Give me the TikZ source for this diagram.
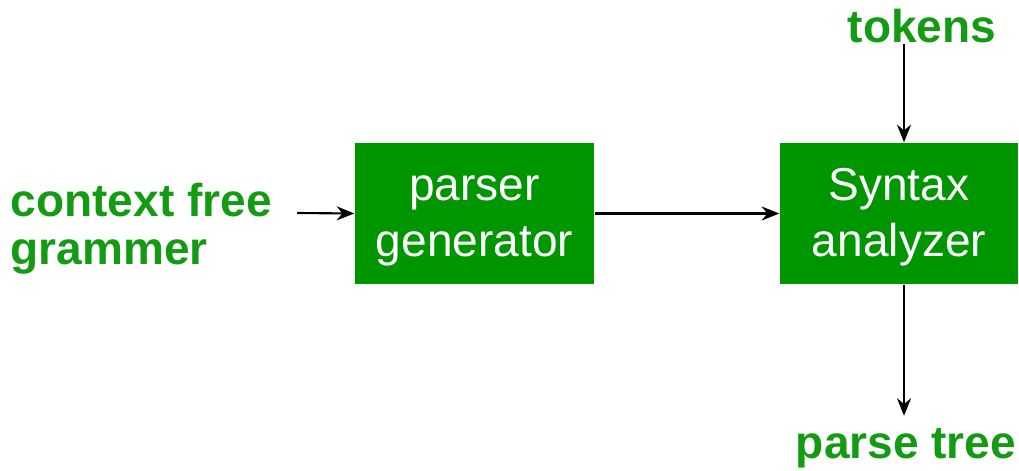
\documentclass[tikz,border=0pt]{standalone}
\usepackage{fontspec}
\setmainfont{Liberation Sans}
\usetikzlibrary{arrows.meta}
\definecolor{gfgreen}{RGB}{0,150,0}
\definecolor{lblgreen}{RGB}{20,155,20}
\tikzset{
  box/.style={fill=gfgreen,minimum width=2.39cm,minimum height=1.41cm,inner sep=0pt},
  boxtext/.style={text=white,inner sep=0pt,align=center,anchor=base,
    font=\fontsize{13.1}{15.7}\selectfont},
  lbl/.style={text=lblgreen,inner sep=0pt,font=\fontsize{13.1}{13.4}\selectfont\bfseries},
  arr/.style={-{Stealth[length=5pt,width=4pt]},line width=0.6pt}
}
\begin{document}
\begin{tikzpicture}[x=0.01cm,y=-0.01cm]
                \useasboundingbox (0,0) rectangle (1019,470);
                \node[box] (pg) at (474.5,213.5) {};
                \node[boxtext] (pgt) at (474.5,256) {parser\\generator};
                \node[box,minimum width=2.38cm] (sa) at (899,213.5) {};
                \node[boxtext] (sat) at (899,256) {Syntax\\analyzer};
                \node[lbl,anchor=base] (tokens) at (922,43) {tokens};
                \node[lbl,anchor=base] (ptree) at (906,458) {parse tree};
                \node[lbl,anchor=base west,align=left] (cfg) at (10,264) {context free\\grammer};
                \coordinate (ax) at (904,0);%colonne des fleches
                \draw[arr] (297,213) -- (pg.west);
                \draw[arr] (pg.east) -- (sa.west);
                \draw[arr] (ax |- tokens.south) -- (ax |- sa.north);
                \draw[arr] (ax |- sa.south) -- ([yshift=12pt]ax |- ptree.base);
            \end{tikzpicture}
\end{document}
